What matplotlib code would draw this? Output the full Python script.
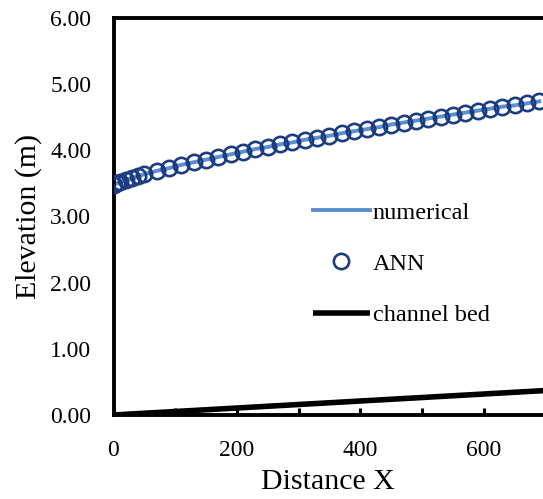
import matplotlib
matplotlib.use("Agg")
import matplotlib.pyplot as plt
from matplotlib.ticker import MultipleLocator, FormatStrFormatter

# Data
distance = [0, 5, 10, 20, 30, 40, 50, 70, 90, 110, 130, 150, 170, 190, 210, 230,
            250, 270, 290, 310, 330, 350, 370, 390, 410, 430, 450, 470, 490, 510,
            530, 550, 570, 590, 610, 630, 650, 670, 690]
ann = [3.47, 3.50, 3.52, 3.55, 3.58, 3.61, 3.64, 3.69, 3.73, 3.78, 3.82, 3.86,
       3.90, 3.94, 3.98, 4.02, 4.05, 4.09, 4.12, 4.16, 4.19, 4.22, 4.26, 4.29,
       4.32, 4.35, 4.39, 4.42, 4.45, 4.48, 4.51, 4.54, 4.57, 4.60, 4.63, 4.66,
       4.68, 4.71, 4.74]
numerical = list(ann)
bed_x = [0, 700]
bed_y = [0.0, 0.37]

plt.rcParams['font.family'] = ['Liberation Serif', 'DejaVu Serif']

fig = plt.figure(figsize=(5.43, 4.99), dpi=100)
ax = fig.add_axes([113.5 / 543, 84 / 499, 1 - 113.5 / 543, 397 / 499])

ax.plot(distance, numerical, color='#5b8fd0', lw=2.8, label='numerical', zorder=2)
ax.plot(distance, ann, ls='none', marker='o', ms=11, mfc='none', mec='#1b3c80',
        mew=1.9, label='ANN', zorder=3)
ax.plot(bed_x, bed_y, color='black', lw=4.0, label='channel bed', zorder=4,
        solid_capstyle='butt')

ax.set_xlim(0, 696)
ax.set_ylim(0, 6)
ax.xaxis.set_major_locator(MultipleLocator(200))
ax.xaxis.set_minor_locator(MultipleLocator(100))
ax.yaxis.set_major_locator(MultipleLocator(1))
ax.yaxis.set_major_formatter(FormatStrFormatter('%.2f'))

for s in ['left', 'top', 'bottom']:
    ax.spines[s].set_linewidth(2.8)
    ax.spines[s].set_color('black')
ax.spines['right'].set_visible(False)

ax.tick_params(axis='x', which='both', direction='in', length=5, width=2.2,
               labelsize=17, pad=18)
ax.tick_params(axis='y', which='both', length=0, labelsize=17, pad=16)

ax.set_xlabel('Distance X', fontsize=21.5, labelpad=6)
ax.set_ylabel('Elevation (m)', fontsize=21.5, labelpad=6)

leg = ax.legend(loc='upper left', bbox_to_anchor=(0.464, 0.537), frameon=False,
                fontsize=17.5, handlelength=2.35, handletextpad=0.12,
                labelspacing=1.2, borderpad=0, borderaxespad=0)

fig.savefig('out.png', dpi=100)
